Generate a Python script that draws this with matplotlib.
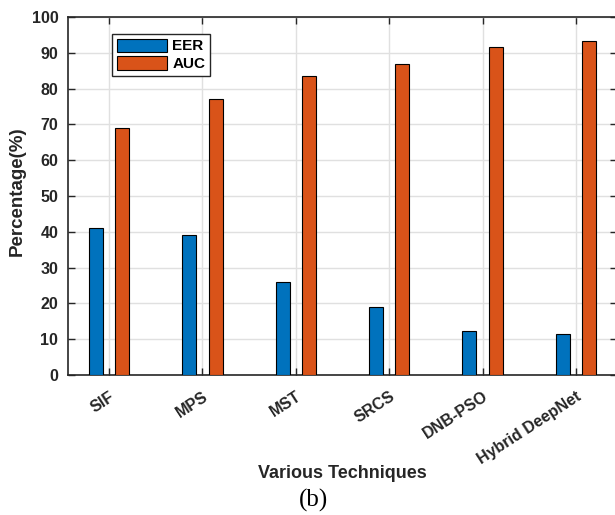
import numpy as np
import matplotlib.pyplot as plt
import matplotlib.transforms as mtransforms

# EER / AUC per technique (percent)
techniques = ['SIF', 'MPS', 'MST', 'SRCS', 'DNB-PSO', 'Hybrid DeepNet']
eer = [41.0, 39.0, 26.0, 19.0, 12.4, 11.4]
auc = [69.0, 77.0, 83.4, 86.8, 91.6, 93.2]

plt.rcParams['font.family'] = ['Liberation Sans', 'DejaVu Sans']
txt = '#262626'

fig = plt.figure(figsize=(6.15, 5.15), dpi=100, facecolor='white')
ax = fig.add_axes([68 / 615, 1 - 375 / 515, (617 - 68) / 615, (375 - 17) / 515])

x = np.arange(1, len(techniques) + 1)
ax.bar(x - 0.14, eer, width=0.15, color='#0072BD', edgecolor='black',
       linewidth=0.8, label='EER', zorder=3)
ax.bar(x + 0.14, auc, width=0.15, color='#D95319', edgecolor='black',
       linewidth=0.8, label='AUC', zorder=3)

ax.set_xlim(0.56, 6.44)
ax.set_ylim(0, 100)
ax.set_yticks(np.arange(0, 101, 10))
ax.set_xticks(x)
ax.set_xticklabels(techniques, rotation=33, ha='right', rotation_mode='anchor',
                   fontsize=11.5, fontweight='bold', color=txt)
# nudge rotated labels a little to the right of their ticks
shift = mtransforms.ScaledTranslation(7 / 100, 0, fig.dpi_scale_trans)
for lbl in ax.get_xticklabels():
    lbl.set_transform(lbl.get_transform() + shift)
for lbl in ax.get_yticklabels():
    lbl.set_fontweight('bold')
    lbl.set_fontsize(11.5)
    lbl.set_color(txt)

# matlab-ish box with inward ticks on all sides
ax.tick_params(direction='in', top=True, right=True, length=5, width=1,
               colors=txt, pad=7)
ax.tick_params(axis='x', pad=10)
for s in ax.spines.values():
    s.set_color(txt)
    s.set_linewidth(1.2)
ax.grid(True, color='#e0e0e0', linewidth=1, zorder=0)
ax.set_axisbelow(True)

ax.set_ylabel('Percentage(%)', fontsize=13.5, fontweight='bold', color=txt)
ax.yaxis.set_label_coords(-0.0765, 0.514)
ax.set_xlabel('Various Techniques', fontsize=13, fontweight='bold', color=txt)
ax.xaxis.set_label_coords(0.5, -0.25)

leg = ax.legend(loc='upper left', bbox_to_anchor=(0.080, 0.9525),
                borderaxespad=0, prop={'weight': 'bold', 'size': 11},
                fancybox=False, framealpha=1, edgecolor=txt,
                handlelength=3.3, handleheight=0.95, handletextpad=0.35,
                borderpad=0.3, labelspacing=0.2)
leg.get_frame().set_linewidth(1)

fig.text(313 / 615, 1 - 500 / 515, '(b)', family='Liberation Serif',
         fontsize=18, ha='center', va='center')

plt.savefig('out.png', dpi=100, facecolor='white')
